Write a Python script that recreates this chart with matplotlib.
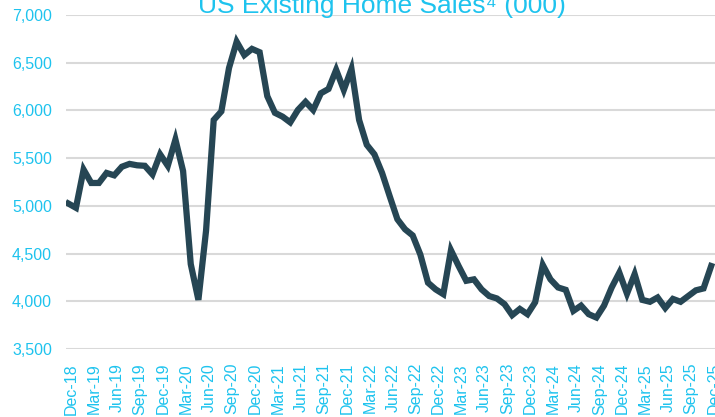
#!/usr/bin/env python
# coding: utf-8

import matplotlib.pyplot as plt
import matplotlib.transforms as mtransforms
import pandas as pd

#=========== general settings ============================#
plt.rcParams["font.family"] = ["Liberation Sans", "DejaVu Sans"]
plt.rcParams["font.size"] = 11
#==========================================================#

# monthly, Dec-18 .. Dec-25 (thousands)
sales = [
    5025, 4980, 5380, 5240, 5240, 5345, 5320, 5410, 5440, 5425, 5420, 5330,   # Dec-18 .. Nov-19
    5540, 5420, 5695, 5365, 4390, 4015, 4740, 5900, 5990, 6445, 6720, 6580,   # Dec-19 .. Nov-20
    6645, 6610, 6150, 5975, 5935, 5875, 6005, 6090, 6005, 6180, 6225, 6425,   # Dec-20 .. Nov-21
    6215, 6435, 5900, 5640, 5540, 5345, 5100, 4860, 4755, 4690, 4490, 4195,   # Dec-21 .. Nov-22
    4125, 4075, 4535, 4370, 4215, 4230, 4125, 4055, 4030, 3970, 3855, 3920,   # Dec-22 .. Nov-23
    3865, 3990, 4380, 4230, 4145, 4120, 3900, 3955, 3865, 3830, 3955, 4145,   # Dec-23 .. Nov-24
    4300, 4080, 4285, 4015, 3995, 4040, 3930, 4025, 3995, 4055, 4115, 4135,   # Dec-24 .. Nov-25
    4370,                                                                     # Dec-25
]
months = pd.date_range("2018-12-01", periods=len(sales), freq="MS")
labels = [m.strftime("%b-%y") for m in months]

yticks = [3500, 4000, 4500, 5000, 5500, 6000, 6500, 7000]

cyan = "#1EC3EE"
line_c = "#264654"

fig = plt.figure(figsize=(7.15, 4.17), dpi=100)
ax = fig.add_axes([0.0923, 0.163, 0.9077, 0.801])

x = list(range(len(sales)))
ax.plot(x, sales, color=line_c, linewidth=4.5, solid_joinstyle="miter", zorder=3)

ax.set_ylim(3500, 7000)
ax.set_yticks(yticks)
ax.set_yticklabels([f"{v:,}" for v in yticks])
ax.set_xlim(-0.3, 84.5)
ax.set_xticks(x[::3])
ax.set_xticklabels(labels[::3], rotation=90)

ax.grid(axis="y", color="#D9D9D9", linewidth=1.5, zorder=0)
ax.tick_params(axis="both", length=0, colors=cyan, labelsize=11.5)
ax.tick_params(axis="y", pad=10)
ax.tick_params(axis="x", pad=10)
for s in ax.spines.values():
    s.set_visible(False)

# labels sit a few px right of the data points in the original
shift = mtransforms.ScaledTranslation(3 / 100, 0, fig.dpi_scale_trans)
for lbl in ax.get_xticklabels():
    lbl.set_transform(lbl.get_transform() + shift)

fig.text(0.534, 0.969, "US Existing Home Sales\u2074 (000)", color=cyan,
         fontsize=19, ha="center", va="baseline")

fig.savefig("out.png", dpi=100)
plt.close(fig)
